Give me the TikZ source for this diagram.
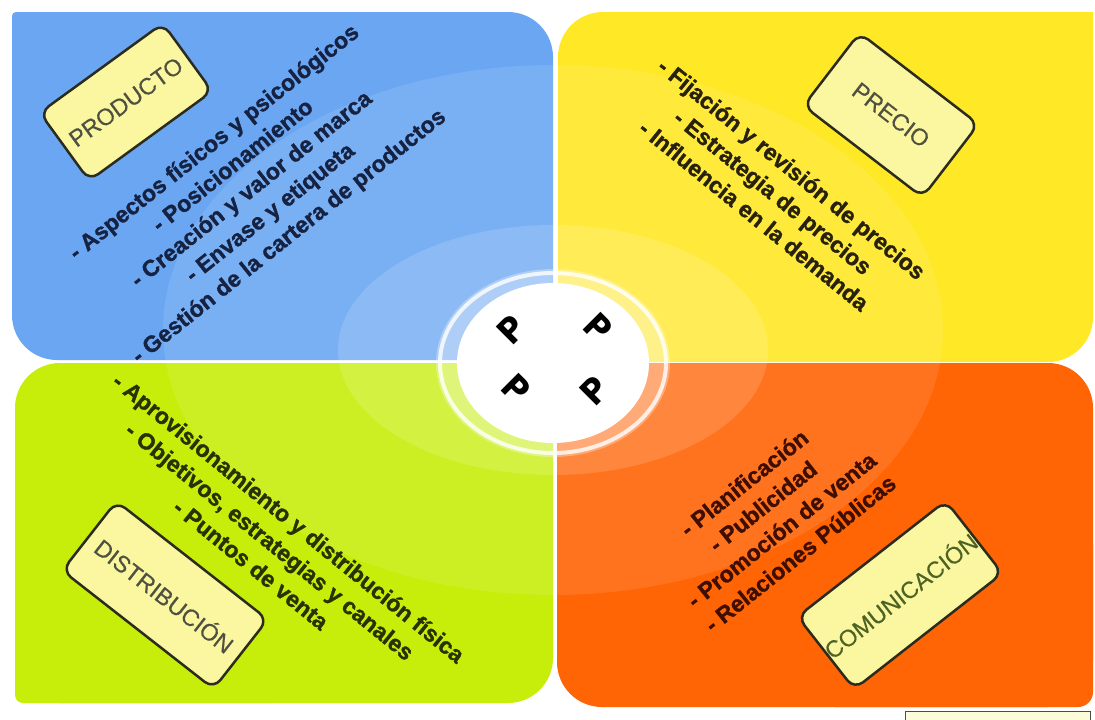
\documentclass[tikz,border=0pt]{standalone}
\usepackage{fontspec}
\setmainfont{Liberation Sans}
\newfontfamily\pfont{Poppins}
\definecolor{qblue}{RGB}{106,166,242}
\definecolor{qyellow}{RGB}{255,232,38}
\definecolor{qgreen}{RGB}{198,238,10}
\definecolor{qorange}{RGB}{255,100,5}
\definecolor{boxfill}{RGB}{250,247,160}
\definecolor{boxline}{RGB}{43,43,32}
\definecolor{labeltext}{RGB}{80,80,64}
\definecolor{comtext}{RGB}{78,98,36}
\definecolor{tblue}{RGB}{22,34,66}
\definecolor{tyellow}{RGB}{40,34,12}
\definecolor{tgreen}{RGB}{38,50,0}
\definecolor{torange}{RGB}{62,14,0}
\begin{document}
\begin{tikzpicture}[x=1pt,y=-1pt,
  labelbox/.style={draw=boxline, line width=2.5pt, fill=boxfill, rounded corners=11pt,
    inner sep=0pt, text=labeltext,
    font=\addfontfeatures{FakeBold=0.4}\fontsize{23.5}{23.5}\selectfont},
  items/.style={align=center,
    font=\bfseries\addfontfeatures{FakeBold=1.2}\fontsize{23}{30}\selectfont},
  pletter/.style={font=\pfont\bfseries\fontsize{36}{36}\selectfont, text=black, inner sep=0pt},
  halo/.style={fill=white, fill opacity=#1}]
\useasboundingbox (0,0) rectangle (1095,720);
\clip (0,0) rectangle (1095,720);
\fill[white] (0,0) rectangle (1095,720);

% four quadrants: one large rounding per diagonal pair of corners
\fill[qblue, rounded corners=45pt] (12,12) rectangle (553,360);
\fill[qblue, rounded corners=4pt] (12,12) rectangle (280,180);
\fill[qblue] (280,180) rectangle (553,360);

\fill[qyellow, rounded corners=45pt] (558,12) rectangle (1093,362);
\fill[qyellow] (800,12) rectangle (1093,180);
\fill[qyellow] (558,180) rectangle (800,362);

\fill[qgreen, rounded corners=45pt] (15,363) rectangle (553,703);
\fill[qgreen] (280,363) rectangle (553,530);
\fill[qgreen, rounded corners=8pt] (15,530) rectangle (280,703);

\fill[qorange, rounded corners=45pt] (557,363) rectangle (1093,707);
\fill[qorange] (557,363) rectangle (820,530);
\fill[qorange, rounded corners=15pt] (820,530) rectangle (1093,707);

% soft concentric halos round the centre
\fill[halo=0.10] (553,330) ellipse [x radius=390, y radius=265];
\fill[halo=0.14] (553,350) ellipse [x radius=215, y radius=125];
\fill[halo=0.30] (553,363) ellipse [x radius=117, y radius=94];

% central disc with its ring
\draw[white, line width=4pt, opacity=0.8] (553,363) ellipse [x radius=113, y radius=90];
\fill[white] (553,363) ellipse [x radius=96, y radius=80];

\node[pletter, rotate=45]  (p1) at (512,330) {P};
\node[pletter, rotate=-45] (p2) at (598,328) {P};
\node[pletter, rotate=-45] (p3) at (516,389) {P};
\node[pletter, rotate=45]  (p4) at (595,391) {P};

% label boxes
\node[labelbox, rotate=36, minimum width=152pt, minimum height=84pt] (prod) at (126,102) {PRODUCTO};
\node[labelbox, rotate=-37.5, minimum width=150pt, minimum height=92pt] (prec) at (891,115) {PRECIO};
\node[labelbox, rotate=-38, minimum width=192pt, minimum height=88pt] (dist) at (165,595) {DISTRIBUCIÓN};
\node[labelbox, rotate=38, minimum width=188pt, minimum height=92pt, text=comtext] (comu) at (900,595) {COMUNICACIÓN};

% item lists
\node[items, text=tblue, rotate=38.5] (prodlist) at (252,190)
  {- Aspectos físicos y psicológicos\\- Posicionamiento\\- Creación y valor de marca\\- Envase y etiqueta\\- Gestión de la cartera de productos};
\node[items, text=tyellow, rotate=-39] (preclist) at (773,192)
  {- Fijación y revisión de precios\\- Estrategia de precios\\- Influencia en la demanda};
\node[items, text=tgreen, rotate=-39] (distlist) at (270,541)
  {- Aprovisionamiento y distribución física\\- Objetivos, estrategias y canales\\- Puntos de venta};
\node[items, text=torange, rotate=38.5] (comulist) at (772,518)
  {- Planificación\\- Publicidad\\- Promoción de venta\\- Relaciones Públicas};

% small framed strip at the lower right edge
\draw[fill=boxfill!40, draw=black!70, line width=0.8pt] (905,711) rectangle (1090,725);
\end{tikzpicture}
\end{document}
